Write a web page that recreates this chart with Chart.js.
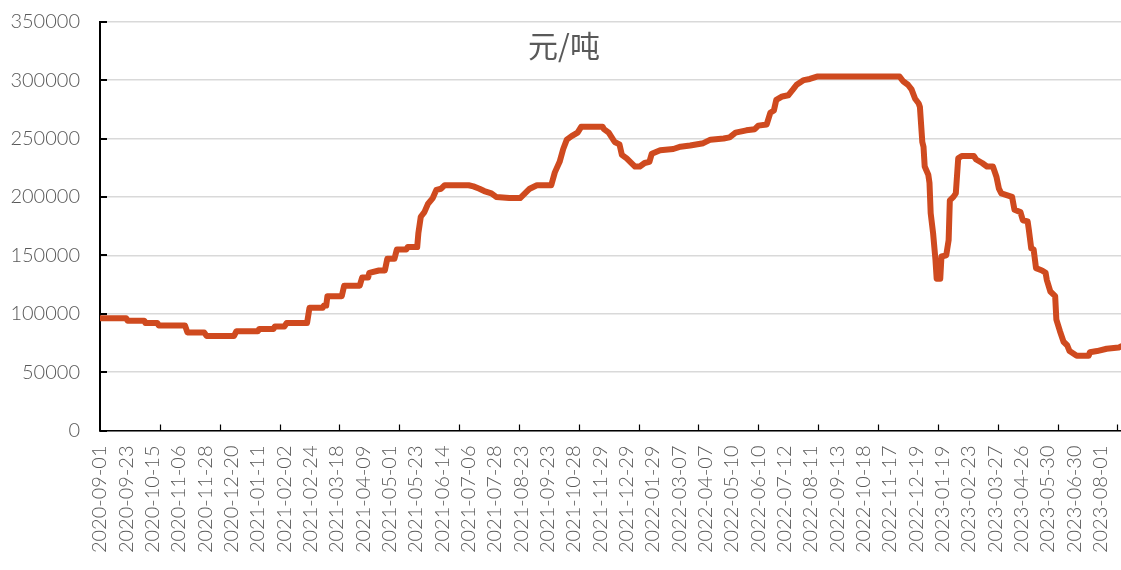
<!DOCTYPE html>
<html>
<head>
<meta charset="utf-8">
<script src="https://cdn.jsdelivr.net/npm/chart.js@4.4.1/dist/chart.umd.min.js"></script>
<style>
  html, body { margin: 0; padding: 0; background: #ffffff; }
  #wrap { width: 1121px; height: 570px; position: relative; }
</style>
</head>
<body>
<div id="wrap"><canvas id="c"></canvas></div>
<script>
// Date labels shown along the bottom axis, one every 22 trading days
const tickLabels = [
  '2020-09-01','2020-09-23','2020-10-15','2020-11-06','2020-11-28','2020-12-20',
  '2021-01-11','2021-02-02','2021-02-24','2021-03-18','2021-04-09','2021-05-01',
  '2021-05-23','2021-06-14','2021-07-06','2021-07-28','2021-08-23','2021-09-23',
  '2021-10-28','2021-11-29','2021-12-29','2022-01-29','2022-03-07','2022-04-07',
  '2022-05-10','2022-06-10','2022-07-12','2022-08-11','2022-09-13','2022-10-18',
  '2022-11-17','2022-12-19','2023-01-19','2023-02-23','2023-03-27','2023-04-26',
  '2023-05-30','2023-06-30','2023-08-01'
];
const labelEvery = 22;   // trading days between date labels
const tickEvery = 50;    // trading days between axis tick marks
const lastDay = 853;     // trading-day index at the right edge

// Price turning points: trading-day index and price (元/吨)
const dayIndex = [
  0, 22, 23, 37, 38, 48, 49, 71, 73, 87, 89, 112, 114, 132, 133, 145, 146, 154, 156, 173,
  175, 186, 187, 189, 190, 202, 204, 217, 219, 224, 225, 233, 238, 240, 246, 248, 256, 257, 265, 266,
  268, 271, 274, 278, 281, 285, 288, 308, 312, 317, 321, 327, 331, 342, 351, 355, 359, 365, 377, 380,
  384, 387, 390, 394, 399, 402, 420, 421, 425, 430, 434, 436, 440, 444, 447, 451, 455, 459, 461, 468,
  479, 485, 493, 504, 510, 521, 526, 531, 540, 547, 550, 557, 560, 563, 565, 570, 575, 579, 582, 588,
  593, 599, 668, 671, 675, 678, 681, 684, 685, 687, 688, 689, 692, 693, 694, 696, 698, 699, 702, 703,
  707, 709, 710, 713, 715, 717, 720, 730, 732, 737, 741, 746, 749, 751, 753, 762, 764, 769, 771, 775,
  776, 778, 780, 782, 787, 790, 791, 794, 798, 799, 802, 805, 808, 810, 816, 826, 827, 833, 841, 851,
  853
];
const priceYuan = [
  96000, 96000, 94000, 94000, 92000, 92000, 90000, 90000, 84000, 84000, 81000, 81000, 85000, 85000, 87000, 87000, 89000, 89000, 92000, 92000,
  105000, 105000, 107000, 107000, 115000, 115000, 124000, 124000, 131000, 131000, 135000, 137000, 137000, 147000, 147000, 155000, 155000, 157000, 157000, 169000,
  183000, 187000, 194000, 199000, 206000, 207000, 210000, 210000, 209000, 207000, 205000, 203000, 200000, 199000, 199000, 203000, 207000, 210000, 210000, 221000,
  230000, 241000, 249000, 252000, 255000, 260000, 260000, 258000, 255000, 247000, 245000, 236000, 233000, 229000, 226000, 226000, 229000, 230000, 237000, 240000,
  241000, 243000, 244000, 246000, 249000, 250000, 251000, 255000, 257000, 258000, 261000, 262000, 272000, 274000, 283000, 286000, 287000, 292000, 296000, 300000,
  301000, 303000, 303000, 299000, 296000, 292000, 284000, 280000, 277000, 247000, 243000, 226000, 219000, 212000, 186000, 169000, 146000, 130000, 130000, 149000,
  150000, 163000, 197000, 200000, 203000, 233000, 235000, 235000, 232000, 229000, 226000, 226000, 217000, 207000, 203000, 200000, 189000, 187000, 180000, 179000,
  172000, 156000, 155000, 139000, 137000, 135000, 129000, 119000, 115000, 95000, 85000, 76000, 73000, 68000, 64000, 64000, 67000, 68000, 70000, 71000,
  72000
];

const yTicks = [0, 50000, 100000, 150000, 200000, 250000, 300000, 350000];
const unitTitle = '元/吨';

const textGray = '#595959';
const lineColor = '#CF4A1F';
const axisFont = { family: 'Lato, Roboto, "Liberation Sans", sans-serif', size: 20, weight: '300' };

// Short inward tick marks on both axes and the unit caption inside the plot
const axisDecor = {
  id: 'axisDecor',
  beforeDatasetsDraw(chart) {
    const { ctx, chartArea, scales } = chart;
    const x = scales.x, y = scales.y;
    ctx.save();
    ctx.strokeStyle = '#000000';
    ctx.lineWidth = 2;
    yTicks.forEach(v => {
      const py = Math.round(y.getPixelForValue(v));
      ctx.beginPath();
      ctx.moveTo(chartArea.left, py);
      ctx.lineTo(chartArea.left + 7, py);
      ctx.stroke();
    });
    ctx.lineWidth = 1.2;
    for (let d = tickEvery; d <= lastDay; d += tickEvery) {
      const px = Math.round(x.getPixelForValue(d)) + 0.5;
      ctx.beginPath();
      ctx.moveTo(px, chartArea.bottom);
      ctx.lineTo(px, chartArea.bottom - 6);
      ctx.stroke();
    }
    ctx.restore();
  },
  afterDraw(chart) {
    const { ctx, chartArea } = chart;
    ctx.save();
    ctx.fillStyle = textGray;
    ctx.font = '30px "Noto Sans CJK SC", sans-serif';
    ctx.textAlign = 'center';
    ctx.textBaseline = 'middle';
    ctx.fillText(unitTitle, chartArea.left + 464, chartArea.top + 24);
    ctx.restore();
  }
};

new Chart(document.getElementById('c'), {
  type: 'line',
  data: {
    datasets: [{
      data: dayIndex.map((d, i) => ({ x: d, y: priceYuan[i] })),
      borderColor: lineColor,
      borderWidth: 6,
      pointRadius: 0,
      tension: 0,
      borderJoinStyle: 'round',
      borderCapStyle: 'round'
    }]
  },
  options: {
    responsive: true,
    maintainAspectRatio: false,
    animation: false,
    events: [],
    layout: { padding: 0 },
    plugins: { legend: { display: false }, tooltip: { enabled: false }, title: { display: false } },
    scales: {
      x: {
        type: 'linear',
        min: 0,
        max: lastDay,
        afterBuildTicks(scale) {
          scale.ticks = tickLabels.map((_, i) => ({ value: i * labelEvery }));
        },
        afterFit(scale) {
          scale.height = 139.5;
          scale.paddingLeft = 0;
          scale.paddingRight = 0;
        },
        grid: { drawOnChartArea: false, drawTicks: false },
        border: { color: '#000000', width: 1.5 },
        ticks: {
          autoSkip: false,
          maxRotation: 90,
          minRotation: 90,
          padding: 15,
          color: textGray,
          font: axisFont,
          callback: (v) => tickLabels[Math.round(v / labelEvery)]
        }
      },
      y: {
        min: 0,
        max: 350000,
        afterBuildTicks(scale) {
          scale.ticks = yTicks.map(v => ({ value: v }));
        },
        afterFit(scale) {
          scale.width = 100;
          scale.paddingTop = 21.7;
          scale.paddingBottom = 0;
        },
        grid: { color: '#d9d9d9', lineWidth: 1.5, drawTicks: false },
        border: { color: '#000000', width: 2 },
        ticks: {
          padding: 20,
          color: textGray,
          font: axisFont,
          callback: (v) => String(v)
        }
      }
    }
  },
  plugins: [axisDecor]
});
</script>
</body>
</html>
